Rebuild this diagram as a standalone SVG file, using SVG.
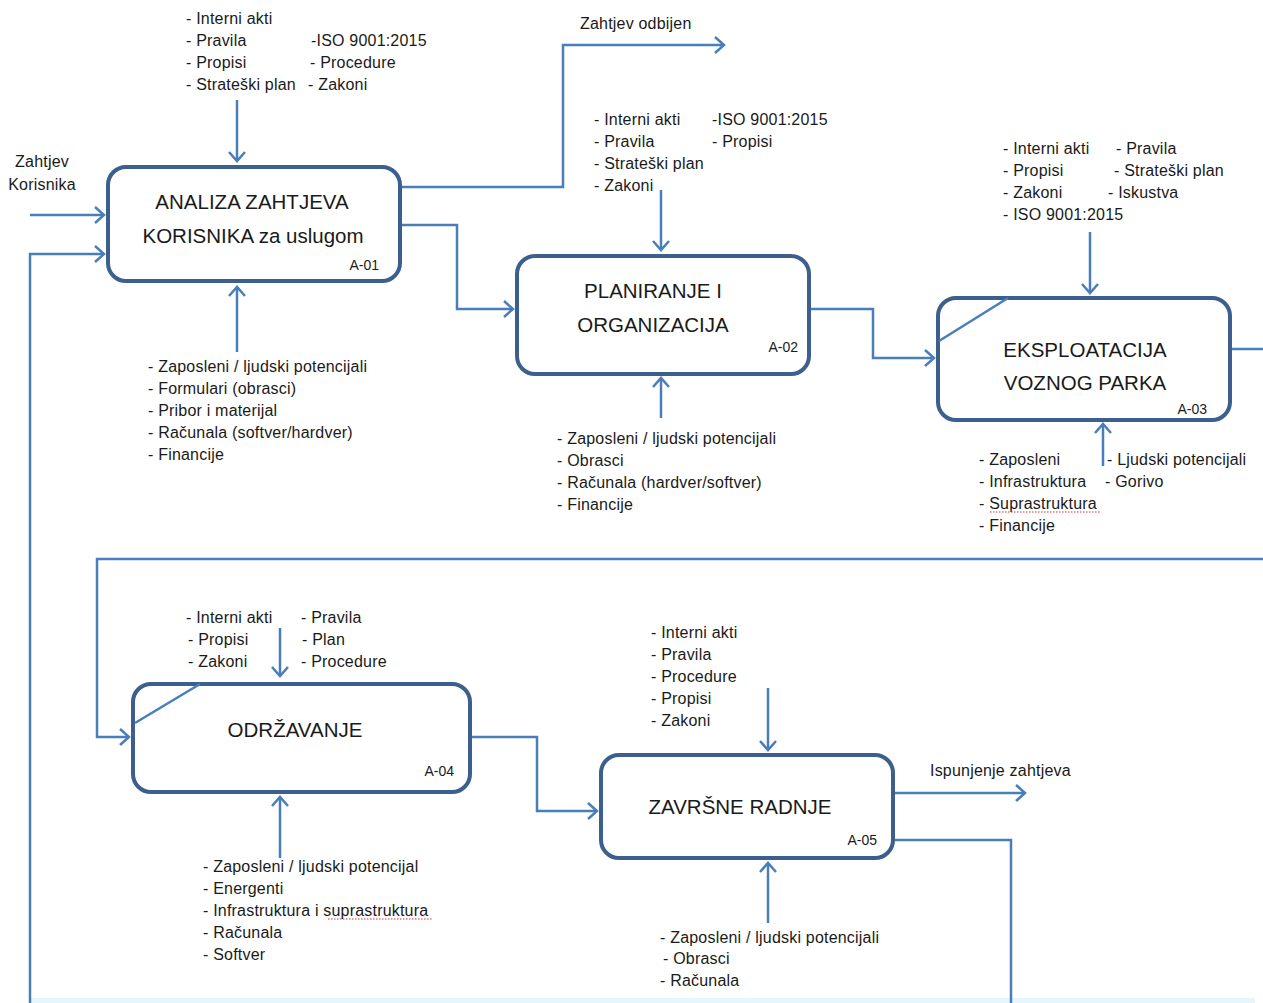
<svg xmlns="http://www.w3.org/2000/svg" width="1263" height="1003" viewBox="0 0 1263 1003">
<defs>
<marker id="arr" markerUnits="userSpaceOnUse" markerWidth="24" markerHeight="24" viewBox="-12 -12 24 24" refX="0" refY="0" orient="auto">
<path d="M-9,-8 L0,0 L-9,8" fill="none" stroke="#4a7ebb" stroke-width="2.5"/>
</marker>
<style>
.box{fill:#ffffff;stroke:#3d5f8e;stroke-width:4}
.diag{stroke:#4a7ebb;stroke-width:2.5;fill:none}
.con{fill:none;stroke:#4a7ebb;stroke-width:2.5}
.t{font-family:"Liberation Sans",Arial,sans-serif;font-size:16px;letter-spacing:0.2px;fill:#1a1a1a}
.big{font-family:"Liberation Sans",Arial,sans-serif;font-size:20.5px;fill:#1a1a1a;text-anchor:middle}
.id{font-family:"Liberation Sans",Arial,sans-serif;font-size:14px;fill:#1a1a1a;text-anchor:end}
.sq{fill:none;stroke:#d03030;stroke-width:1;stroke-dasharray:1.5 1.5}
</style>
</defs>
<rect width="1263" height="1003" fill="#ffffff"/>
<rect x="30" y="998" width="1225" height="5" fill="#e6f6fa"/>

<g id="connectors">
<path class="con" d="M237,100 V161" marker-end="url(#arr)"/>
<path class="con" d="M30,215 H104" marker-end="url(#arr)"/>
<path class="con" d="M30,1003 V254 H104" marker-end="url(#arr)"/>
<path class="con" d="M400,187 H563 V45 H724" marker-end="url(#arr)"/>
<path class="con" d="M400,225 H457 V309 H513" marker-end="url(#arr)"/>
<path class="con" d="M237,352 V287" marker-end="url(#arr)"/>
<path class="con" d="M661,190 V250" marker-end="url(#arr)"/>
<path class="con" d="M661,418 V378" marker-end="url(#arr)"/>
<path class="con" d="M809,309 H873 V358 H934" marker-end="url(#arr)"/>
<path class="con" d="M1090,232 V293" marker-end="url(#arr)"/>
<path class="con" d="M1103,466 V424" marker-end="url(#arr)"/>
<path class="con" d="M1230,349 H1263"/>
<path class="con" d="M1263,559 H97 V737 H129" marker-end="url(#arr)"/>
<path class="con" d="M280,628 V676" marker-end="url(#arr)"/>
<path class="con" d="M280,858 V797" marker-end="url(#arr)"/>
<path class="con" d="M470,737 H537 V811 H597" marker-end="url(#arr)"/>
<path class="con" d="M768,688 V750" marker-end="url(#arr)"/>
<path class="con" d="M768,923 V863" marker-end="url(#arr)"/>
<path class="con" d="M893,793 H1025" marker-end="url(#arr)"/>
<path class="con" d="M893,840 H1011 V1003"/>
</g>

<g id="A-01">
<rect class="box" x="108" y="167" width="292" height="114" rx="18"/>
<text class="big" x="252" y="209">ANALIZA ZAHTJEVA</text>
<text class="big" x="253" y="243">KORISNIKA za uslugom</text>
<text class="id" x="379" y="270">A-01</text>
</g>

<g id="A-02">
<rect class="box" x="517" y="256" width="292" height="118" rx="18"/>
<text class="big" x="653" y="298">PLANIRANJE I</text>
<text class="big" x="653" y="332">ORGANIZACIJA</text>
<text class="id" x="798" y="352">A-02</text>
</g>

<g id="A-03">
<rect class="box" x="938" y="298" width="292" height="122" rx="18"/>
<path class="diag" d="M939,341 L1008,298"/>
<text class="big" x="1085" y="357">EKSPLOATACIJA</text>
<text class="big" x="1085" y="390">VOZNOG PARKA</text>
<text class="id" x="1207" y="414">A-03</text>
</g>

<g id="A-04">
<rect class="box" x="133" y="684" width="337" height="108" rx="18"/>
<path class="diag" d="M135,723 L200,684"/>
<text class="big" x="295" y="737">ODRŽAVANJE</text>
<text class="id" x="454" y="776">A-04</text>
</g>

<g id="A-05">
<rect class="box" x="601" y="755" width="292" height="103" rx="18"/>
<text class="big" x="740" y="814">ZAVRŠNE RADNJE</text>
<text class="id" x="877" y="845">A-05</text>
</g>

<g id="labels">
<text class="t" x="42" y="167" text-anchor="middle">Zahtjev</text>
<text class="t" x="42" y="190" text-anchor="middle">Korisnika</text>
<text class="t" x="580" y="29">Zahtjev odbijen</text>
<text class="t" x="930" y="776">Ispunjenje zahtjeva</text>

<text class="t" x="186" y="24">- Interni akti</text>
<text class="t" x="186" y="46">- Pravila</text>
<text class="t" x="186" y="68">- Propisi</text>
<text class="t" x="186" y="90">- Strateški plan</text>
<text class="t" x="311" y="46">-ISO 9001:2015</text>
<text class="t" x="310" y="68">- Procedure</text>
<text class="t" x="308" y="90">- Zakoni</text>

<text class="t" x="148" y="372">- Zaposleni / ljudski potencijali</text>
<text class="t" x="148" y="394">- Formulari (obrasci)</text>
<text class="t" x="148" y="416">- Pribor i materijal</text>
<text class="t" x="148" y="438">- Računala  (softver/hardver)</text>
<text class="t" x="148" y="460">- Financije</text>

<text class="t" x="594" y="125">- Interni akti</text>
<text class="t" x="594" y="147">- Pravila</text>
<text class="t" x="594" y="169">- Strateški plan</text>
<text class="t" x="594" y="191">- Zakoni</text>
<text class="t" x="712" y="125">-ISO 9001:2015</text>
<text class="t" x="712" y="147">- Propisi</text>

<text class="t" x="557" y="444">- Zaposleni / ljudski potencijali</text>
<text class="t" x="557" y="466">- Obrasci</text>
<text class="t" x="557" y="488">- Računala (hardver/softver)</text>
<text class="t" x="557" y="510">- Financije</text>

<text class="t" x="1003" y="154">- Interni akti</text>
<text class="t" x="1003" y="176">- Propisi</text>
<text class="t" x="1003" y="198">- Zakoni</text>
<text class="t" x="1003" y="220">- ISO 9001:2015</text>
<text class="t" x="1116" y="154">- Pravila</text>
<text class="t" x="1114" y="176">- Strateški plan</text>
<text class="t" x="1108" y="198">- Iskustva</text>

<text class="t" x="979" y="465">- Zaposleni</text>
<text class="t" x="979" y="487">- Infrastruktura</text>
<text class="t" x="979" y="509">- Suprastruktura</text>
<text class="t" x="979" y="531">- Financije</text>
<text class="t" x="1107" y="465">- Ljudski potencijali</text>
<text class="t" x="1105" y="487">- Gorivo</text>
<path class="sq" d="M990,512 H1100"/>

<text class="t" x="186" y="623">- Interni akti</text>
<text class="t" x="188" y="645">- Propisi</text>
<text class="t" x="188" y="667">- Zakoni</text>
<text class="t" x="301" y="623">- Pravila</text>
<text class="t" x="302" y="645">- Plan</text>
<text class="t" x="301" y="667">- Procedure</text>

<text class="t" x="203" y="872">- Zaposleni / ljudski potencijal</text>
<text class="t" x="203" y="894">- Energenti</text>
<text class="t" x="203" y="916">- Infrastruktura i suprastruktura</text>
<text class="t" x="203" y="938">- Računala</text>
<text class="t" x="203" y="960">- Softver</text>
<path class="sq" d="M328,919 H432"/>

<text class="t" x="651" y="638">- Interni akti</text>
<text class="t" x="651" y="660">- Pravila</text>
<text class="t" x="651" y="682">- Procedure</text>
<text class="t" x="651" y="704">- Propisi</text>
<text class="t" x="651" y="726">- Zakoni</text>

<text class="t" x="660" y="943">- Zaposleni / ljudski potencijali</text>
<text class="t" x="663" y="964">- Obrasci</text>
<text class="t" x="660" y="986">- Računala</text>
</g>
</svg>
